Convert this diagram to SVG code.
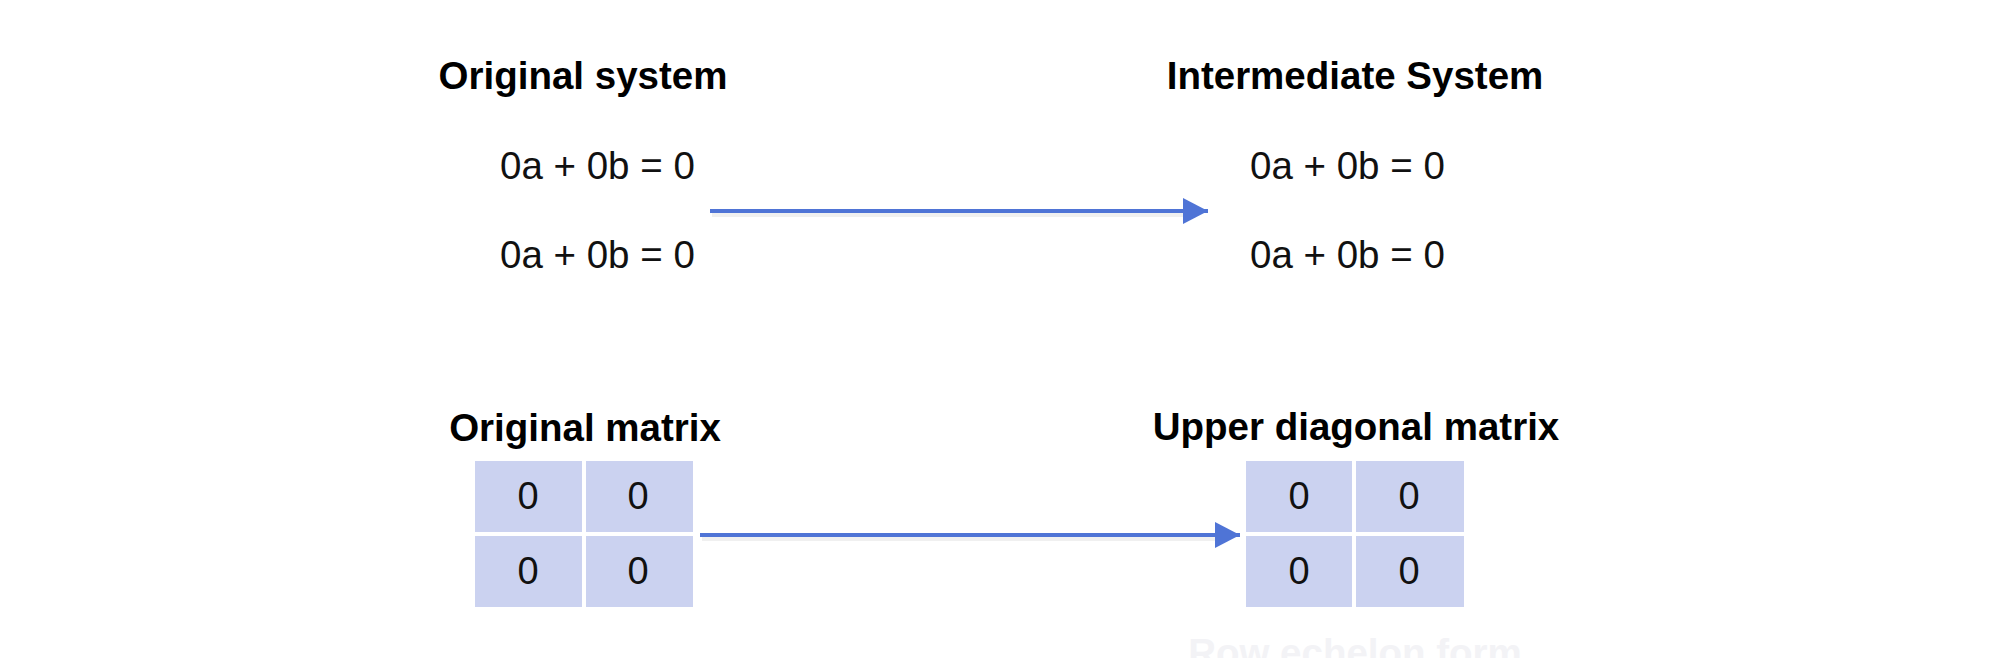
<svg xmlns="http://www.w3.org/2000/svg" width="2000" height="658" viewBox="0 0 2000 658">
  <style>
    .title { font-family: "Liberation Sans", Arial, sans-serif; font-weight: bold; font-size: 38.5px; fill: #000; text-anchor: middle; }
    .eq { font-family: "Liberation Sans", Arial, sans-serif; font-size: 38.5px; fill: #111; }
    .num { font-family: "Liberation Sans", Arial, sans-serif; font-size: 38px; fill: #111; text-anchor: middle; }
    .cell { fill: #cbd2f0; }
    .faded { font-family: "Liberation Sans", Arial, sans-serif; font-weight: bold; font-size: 38.5px; fill: #f3f3f6; text-anchor: middle; }
    .conn { stroke: #4f74d6; stroke-width: 4; fill: none; }
    .shadow { stroke: #000; stroke-opacity: 0.06; stroke-width: 4; fill: none; }
  </style>
  <defs>
    <marker id="arrow" markerUnits="userSpaceOnUse" markerWidth="26" markerHeight="27" refX="25" refY="13" orient="auto">
      <path d="M0,0 L25,13 L0,26 Z" fill="#4f74d6"/>
    </marker>
  </defs>
  <rect width="2000" height="658" fill="#fff"/>

  <g id="original-system">
    <text class="title" x="583" y="89">Original system</text>
    <text class="eq" x="500" y="179">0a + 0b = 0</text>
    <text class="eq" x="500" y="268">0a + 0b = 0</text>
  </g>

  <g id="intermediate-system">
    <text class="title" x="1355" y="89">Intermediate System</text>
    <text class="eq" x="1250" y="179">0a + 0b = 0</text>
    <text class="eq" x="1250" y="268">0a + 0b = 0</text>
  </g>

  <g id="original-matrix">
    <text class="title" x="585" y="441">Original matrix</text>
    <rect class="cell" x="475" y="461" width="107" height="71"/>
    <rect class="cell" x="586" y="461" width="107" height="71"/>
    <rect class="cell" x="475" y="536" width="107" height="71"/>
    <rect class="cell" x="586" y="536" width="107" height="71"/>
    <text class="num" x="528" y="509">0</text>
    <text class="num" x="638" y="509">0</text>
    <text class="num" x="528" y="584">0</text>
    <text class="num" x="638" y="584">0</text>
  </g>

  <g id="upper-diagonal-matrix">
    <text class="title" x="1356" y="440">Upper diagonal matrix</text>
    <rect class="cell" x="1246" y="461" width="106" height="71"/>
    <rect class="cell" x="1356" y="461" width="108" height="71"/>
    <rect class="cell" x="1246" y="536" width="106" height="71"/>
    <rect class="cell" x="1356" y="536" width="108" height="71"/>
    <text class="num" x="1299" y="509">0</text>
    <text class="num" x="1409" y="509">0</text>
    <text class="num" x="1299" y="584">0</text>
    <text class="num" x="1409" y="584">0</text>
    <text class="faded" x="1355" y="666">Row echelon form</text>
  </g>

  <g id="connectors">
    <line class="shadow" x1="712" y1="215" x2="1185" y2="215"/>
    <line class="conn" x1="710" y1="211" x2="1208" y2="211" marker-end="url(#arrow)"/>
    <line class="shadow" x1="702" y1="539" x2="1215" y2="539"/>
    <line class="conn" x1="700" y1="535" x2="1240" y2="535" marker-end="url(#arrow)"/>
  </g>
</svg>
